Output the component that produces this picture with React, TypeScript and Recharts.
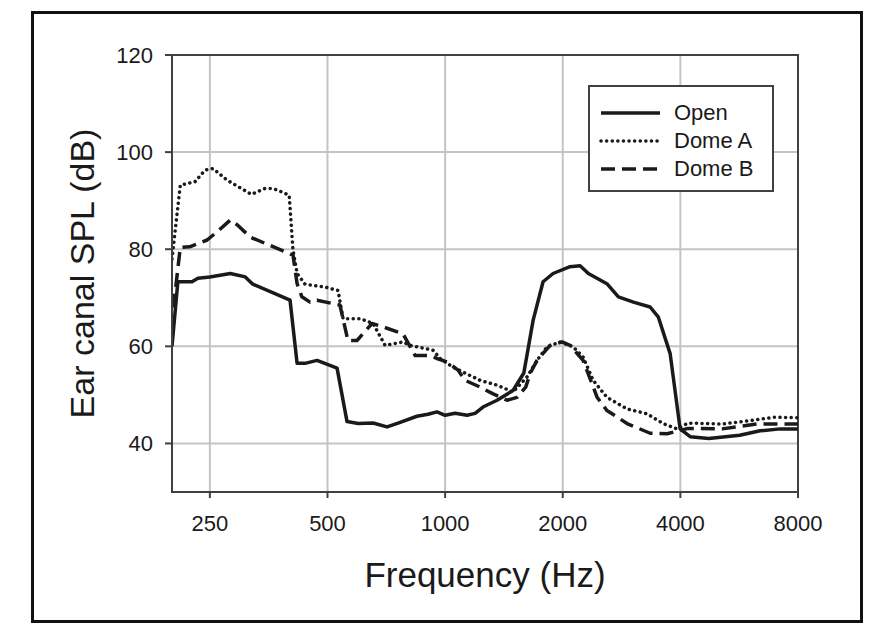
import React from "react";
import {
  CartesianGrid,
  Legend,
  Line,
  LineChart,
  ReferenceArea,
  XAxis,
  YAxis,
} from "recharts";

const openFreq = [200, 207, 225, 233, 250, 282, 308, 322, 401, 418, 438, 470, 529, 561, 599, 654, 710, 758, 847, 904, 953, 1000, 1060, 1138, 1193, 1250, 1358, 1492, 1590, 1680, 1781, 1889, 2088, 2215, 2326, 2594, 2776, 3033, 3347, 3514, 3766, 3994, 4237, 4730, 5674, 6400, 7200, 8000];
const openSpl = [60, 73.3, 73.3, 74, 74.3, 75, 74.3, 72.8, 69.5, 56.5, 56.5, 57.1, 55.5, 44.5, 44.1, 44.2, 43.4, 44.2, 45.6, 46, 46.5, 45.8, 46.2, 45.8, 46.2, 47.5, 48.9, 50.9, 54.5, 65.4, 73.3, 75, 76.4, 76.6, 75, 72.9, 70.2, 69.1, 68.1, 66, 58.5, 43, 41.4, 41, 41.7, 42.6, 43, 43];

const domeAFreq = [200, 210, 229, 243, 255, 277, 304, 319, 346, 363, 382, 399, 408, 418, 438, 493, 532, 548, 606, 654, 702, 780, 813, 847, 931, 971, 1048, 1111, 1229, 1358, 1492, 1621, 1719, 1824, 1969, 2126, 2255, 2392, 2594, 2922, 3288, 3613, 3923, 4188, 5116, 6034, 6951, 8000];
const domeASpl = [78, 93.2, 93.9, 96.3, 96.6, 94.2, 92.3, 91.3, 92.5, 92.5, 91.8, 91.1, 79.8, 75, 72.8, 72.2, 71.5, 65.7, 65.7, 64.7, 60.2, 60.9, 60.2, 59.9, 59.2, 57.5, 55.7, 54.7, 53, 52, 50.6, 53.7, 57.1, 59.9, 60.9, 59.9, 57.8, 53, 49.5, 47.1, 46.1, 44.1, 43, 44.2, 44, 44.7, 45.4, 45.3];

const domeBFreq = [200, 204, 210, 222, 246, 261, 282, 295, 317, 356, 408, 418, 430, 451, 470, 538, 564, 595, 650, 694, 780, 838, 915, 953, 1011, 1079, 1125, 1229, 1327, 1441, 1528, 1608, 1650, 1719, 1856, 1992, 2088, 2255, 2449, 2594, 2922, 3347, 3700, 3994, 4188, 5116, 6286, 8000];
const domeBSpl = [68, 71.5, 80.4, 80.5, 81.9, 83.6, 86, 84.9, 82.5, 80.8, 78.8, 72.9, 70.2, 69.1, 69.5, 68.5, 61.2, 61.2, 64.7, 64, 62.6, 58.1, 58.1, 57.5, 56.8, 55.1, 53, 51.6, 50.2, 48.9, 49.5, 51.6, 54.4, 57.1, 60.2, 60.9, 60.2, 57.1, 49.5, 46.8, 44.1, 42.1, 42, 42.7, 43.1, 43, 44, 44];

const xTicks = [250, 500, 1000, 2000, 4000, 8000];
const yTicks = [40, 60, 80, 100, 120];

const FONT = '"Liberation Sans", Arial, sans-serif';
const INK = "#1a1a1a";
const AXIS = "#404040";

const toPoints = (freq: number[], spl: number[]) =>
  freq.map((f, i) => ({ f, spl: spl[i] }));

const series = [
  { name: "Open", data: toPoints(openFreq, openSpl), dash: undefined, cap: "butt" },
  { name: "Dome A", data: toPoints(domeAFreq, domeASpl), dash: "0.1 5.5", cap: "round" },
  { name: "Dome B", data: toPoints(domeBFreq, domeBSpl), dash: "14 7", cap: "butt" },
];

function YTitle({ viewBox }: any) {
  const cy = viewBox.y + viewBox.height / 2;
  return (
    <text
      x={82}
      y={cy}
      transform={`rotate(-90 82 ${cy})`}
      textAnchor="middle"
      dy="0.355em"
      fontFamily={FONT}
      fontSize={34}
      fill={INK}
    >
      Ear canal SPL (dB)
    </text>
  );
}

function XTitle({ viewBox }: any) {
  return (
    <text
      x={viewBox.x + viewBox.width / 2}
      y={575}
      textAnchor="middle"
      dy="0.355em"
      fontFamily={FONT}
      fontSize={35}
      fill={INK}
    >
      Frequency (Hz)
    </text>
  );
}

function LegendBox() {
  return (
    <div
      style={{
        width: 186,
        height: 107,
        border: `2px solid ${AXIS}`,
        background: "#fff",
        fontFamily: FONT,
        fontSize: 22,
        color: INK,
        paddingTop: 12,
        boxSizing: "border-box",
      }}
    >
      {series.map((s) => (
        <div
          key={s.name}
          style={{ display: "flex", alignItems: "center", height: 28 }}
        >
          <svg width={84} height={10} style={{ flex: "none" }}>
            <line
              x1={11}
              x2={70}
              y1={5}
              y2={5}
              stroke={INK}
              strokeWidth={3.5}
              strokeDasharray={s.dash}
              strokeLinecap={s.cap as any}
            />
          </svg>
          <span>{s.name}</span>
        </div>
      ))}
    </div>
  );
}

export default function App() {
  return (
    <div style={{ position: "absolute", left: 0, top: 0, width: 877, height: 643, background: "#fff" }}>
      <div
        style={{
          position: "absolute",
          left: 31,
          top: 11,
          width: 832,
          height: 612,
          border: "3px solid #111",
          boxSizing: "border-box",
        }}
      />
      <div style={{ position: "absolute", left: 0, top: 0 }}>
        <LineChart
          width={877}
          height={643}
          margin={{ top: 55, right: 79, bottom: 0, left: 0 }}
        >
          <CartesianGrid stroke="#c4c4c4" strokeWidth={2} />
          <XAxis
            dataKey="f"
            type="number"
            scale="log"
            domain={[200, 8000]}
            ticks={xTicks}
            allowDataOverflow
            height={151}
            tickSize={6}
            tickMargin={17}
            stroke={AXIS}
            strokeWidth={2}
            tick={{ fill: INK, fontSize: 22, fontFamily: FONT }}
            label={<XTitle />}
          />
          <YAxis
            type="number"
            domain={[30, 120]}
            ticks={yTicks}
            allowDataOverflow
            width={172}
            tickSize={7}
            tickMargin={12}
            stroke={AXIS}
            strokeWidth={2}
            tick={{ fill: INK, fontSize: 22, fontFamily: FONT }}
            label={<YTitle />}
          />
          <ReferenceArea
            x1={200}
            x2={8000}
            y1={30}
            y2={120}
            fill="none"
            stroke={AXIS}
            strokeWidth={2}
          />
          {series.map((s) => (
            <Line
              key={s.name}
              name={s.name}
              data={s.data}
              dataKey="spl"
              type="linear"
              stroke={INK}
              strokeWidth={3.5}
              strokeDasharray={s.dash}
              strokeLinecap={s.cap as any}
              strokeLinejoin="round"
              dot={false}
              activeDot={false}
              isAnimationActive={false}
            />
          ))}
          <Legend
            layout="vertical"
            align="center"
            verticalAlign="middle"
            content={<LegendBox />}
            wrapperStyle={{ left: 588, top: 85, width: 186, height: 107 }}
          />
        </LineChart>
      </div>
    </div>
  );
}
